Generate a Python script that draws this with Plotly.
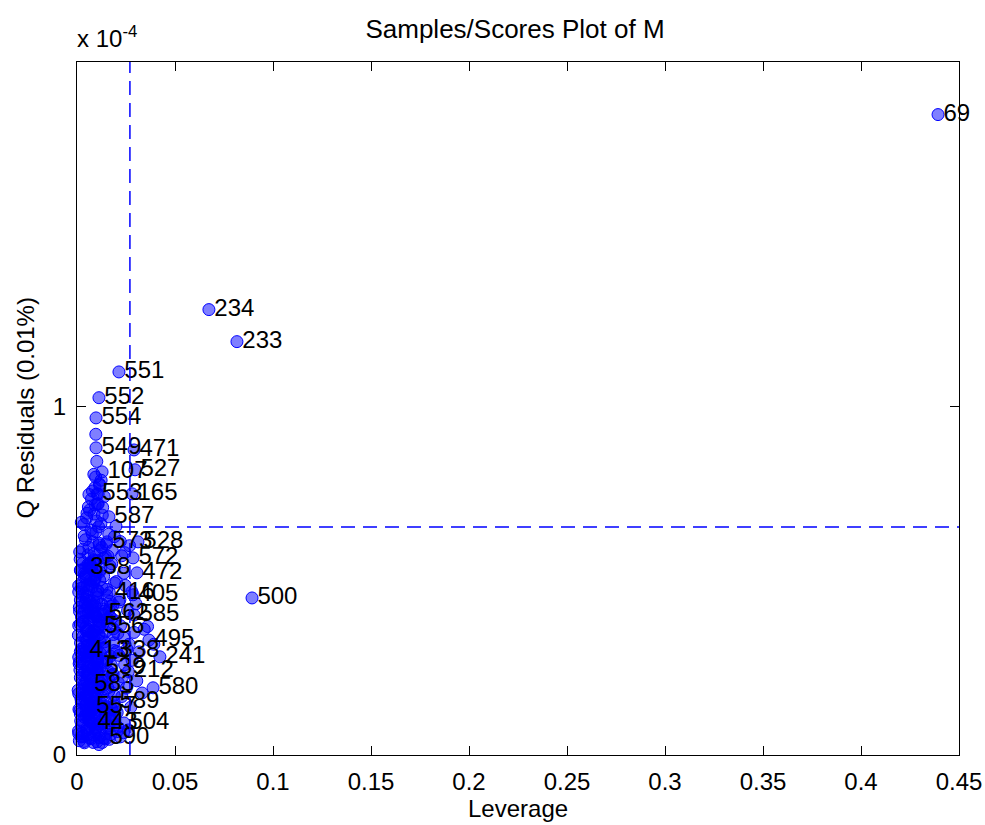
import plotly.graph_objects as go

# ---------------- data (Q residuals in units of 1e-4) ----------------
# unlabeled cluster samples
leverage = [
    # y 0.03-0.12
    0.0012, 0.0025, 0.0038, 0.0051, 0.0063, 0.0077, 0.0089, 0.0102, 0.0116, 0.0131,
    0.0145, 0.0158, 0.0172, 0.0188, 0.0203, 0.0221, 0.0019, 0.0044, 0.0068, 0.0093,
    0.0121, 0.0149, 0.0176, 0.0209, 0.0237, 0.0262, 0.0008, 0.0057, 0.0112, 0.0165,
    # y 0.12-0.25
    0.0010, 0.0022, 0.0034, 0.0047, 0.0059, 0.0071, 0.0084, 0.0096, 0.0108, 0.0121,
    0.0135, 0.0148, 0.0162, 0.0177, 0.0193, 0.0211, 0.0229, 0.0251, 0.0274, 0.0015,
    0.0029, 0.0042, 0.0055, 0.0068, 0.0081, 0.0095, 0.0110, 0.0126, 0.0142, 0.0159,
    0.0181, 0.0205, 0.0232, 0.0305, 0.0332, 0.0006, 0.0039, 0.0073, 0.0103, 0.0139,
    # y 0.25-0.40
    0.0011, 0.0024, 0.0036, 0.0049, 0.0061, 0.0074, 0.0086, 0.0099, 0.0113, 0.0127,
    0.0141, 0.0155, 0.0170, 0.0186, 0.0203, 0.0222, 0.0243, 0.0266, 0.0291, 0.0017,
    0.0031, 0.0045, 0.0058, 0.0072, 0.0087, 0.0102, 0.0118, 0.0134, 0.0151, 0.0168,
    0.0189, 0.0214, 0.0238, 0.0317, 0.0343, 0.0007, 0.0052, 0.0079, 0.0106, 0.0146,
    0.0196, 0.0255, 0.0281, 0.0360, 0.0392,
    # y 0.40-0.55
    0.0013, 0.0026, 0.0040, 0.0053, 0.0066, 0.0080, 0.0093, 0.0107, 0.0122, 0.0137,
    0.0152, 0.0168, 0.0184, 0.0201, 0.0219, 0.0238, 0.0258, 0.0280, 0.0019, 0.0033,
    0.0047, 0.0062, 0.0076, 0.0091, 0.0105, 0.0120, 0.0136, 0.0153, 0.0171, 0.0192,
    0.0214, 0.0009, 0.0057, 0.0085, 0.0116, 0.0163, 0.0246, 0.0301,
    # y 0.55-0.70
    0.0016, 0.0029, 0.0043, 0.0057, 0.0071, 0.0085, 0.0099, 0.0114, 0.0129, 0.0145,
    0.0162, 0.0180, 0.0199, 0.0221, 0.0244, 0.0022, 0.0037, 0.0051, 0.0066, 0.0081,
    0.0097, 0.0126, 0.0158, 0.0191, 0.0268, 0.0110,
    # y 0.70-1.0
    0.0058, 0.0074, 0.0092, 0.0108, 0.0123, 0.0086, 0.0101, 0.0139, 0.0079, 0.0115,
    0.0096, 0.0131,
    # dense core, y 0.03-0.15
    0.0015, 0.0030, 0.0045, 0.0060, 0.0075, 0.0090, 0.0105, 0.0120, 0.0135, 0.0150,
    0.0165, 0.0180, 0.0195, 0.0021, 0.0036, 0.0052, 0.0067, 0.0083, 0.0098, 0.0114,
    0.0129, 0.0144, 0.0160, 0.0176, 0.0192,
    # dense core, y 0.15-0.30
    0.0014, 0.0028, 0.0041, 0.0054, 0.0067, 0.0080, 0.0094, 0.0107, 0.0120, 0.0133,
    0.0147, 0.0161, 0.0175, 0.0190, 0.0020, 0.0035, 0.0049, 0.0063, 0.0077, 0.0091,
    0.0104, 0.0118, 0.0132, 0.0157, 0.0184,
    # dense core, y 0.30-0.45
    0.0012, 0.0027, 0.0042, 0.0056, 0.0070, 0.0084, 0.0098, 0.0112, 0.0126, 0.0140,
    0.0154, 0.0169, 0.0185, 0.0018, 0.0033, 0.0048, 0.0064, 0.0078, 0.0093, 0.0109,
    0.0124, 0.0139, 0.0176, 0.0208,
    # dense core, y 0.45-0.62
    0.0014, 0.0031, 0.0046, 0.0061, 0.0075, 0.0089, 0.0104, 0.0119, 0.0134, 0.0149,
    0.0021, 0.0038, 0.0054, 0.0069, 0.0083, 0.0098, 0.0113, 0.0128, 0.0177, 0.0228,
    # y 0.62-0.80
    0.0035, 0.0049, 0.0064, 0.0078, 0.0093, 0.0108, 0.0122, 0.0061, 0.0087, 0.0104,
    0.0116, 0.0095,
    # innermost core, five bands
    0.0009, 0.0023, 0.0037, 0.0050, 0.0064, 0.0078, 0.0092, 0.0106,
    0.0017, 0.0031, 0.0045, 0.0059, 0.0073, 0.0087, 0.0101, 0.0115,
    0.0009, 0.0023, 0.0037, 0.0050, 0.0064, 0.0078, 0.0092, 0.0106,
    0.0017, 0.0031, 0.0045, 0.0059, 0.0073, 0.0087, 0.0101, 0.0115,
    0.0009, 0.0023, 0.0037, 0.0050, 0.0064, 0.0078, 0.0092, 0.0106,
    0.0017, 0.0031, 0.0045, 0.0059, 0.0073, 0.0087, 0.0101, 0.0115,
    0.0009, 0.0023, 0.0037, 0.0050, 0.0064, 0.0078, 0.0092, 0.0106,
    0.0017, 0.0031, 0.0045, 0.0059, 0.0073, 0.0087, 0.0101, 0.0115,
    0.0009, 0.0023, 0.0037, 0.0050, 0.0064, 0.0078, 0.0092, 0.0106,
    0.0017, 0.0031, 0.0045, 0.0059, 0.0073, 0.0087, 0.0101, 0.0115,
]
q_residual = [
    0.041, 0.062, 0.035, 0.078, 0.049, 0.091, 0.057, 0.038, 0.071, 0.104,
    0.046, 0.083, 0.059, 0.112, 0.067, 0.052, 0.098, 0.115, 0.108, 0.074,
    0.089, 0.061, 0.099, 0.080, 0.064, 0.072, 0.069, 0.119, 0.030, 0.045,
    0.131, 0.152, 0.174, 0.128, 0.196, 0.143, 0.218, 0.165, 0.237, 0.149,
    0.201, 0.126, 0.183, 0.229, 0.141, 0.207, 0.168, 0.192, 0.137, 0.244,
    0.209, 0.161, 0.235, 0.178, 0.133, 0.247, 0.189, 0.214, 0.157, 0.241,
    0.198, 0.122, 0.224, 0.213, 0.178, 0.186, 0.239, 0.205, 0.171, 0.138,
    0.262, 0.289, 0.311, 0.274, 0.338, 0.256, 0.357, 0.301, 0.382, 0.268,
    0.325, 0.392, 0.284, 0.346, 0.297, 0.371, 0.259, 0.318, 0.352, 0.376,
    0.341, 0.295, 0.389, 0.278, 0.331, 0.253, 0.364, 0.306, 0.271, 0.398,
    0.322, 0.286, 0.337, 0.296, 0.361, 0.344, 0.315, 0.397, 0.279, 0.354,
    0.385, 0.304, 0.272, 0.369, 0.318,
    0.412, 0.438, 0.463, 0.425, 0.491, 0.407, 0.517, 0.452, 0.534, 0.419,
    0.476, 0.543, 0.431, 0.498, 0.446, 0.522, 0.415, 0.469, 0.529, 0.482,
    0.447, 0.538, 0.423, 0.505, 0.471, 0.404, 0.513, 0.458, 0.427, 0.494,
    0.439, 0.486, 0.548, 0.441, 0.502, 0.416, 0.487, 0.434,
    0.562, 0.591, 0.618, 0.575, 0.646, 0.558, 0.672, 0.603, 0.689, 0.569,
    0.634, 0.587, 0.657, 0.613, 0.581, 0.668, 0.629, 0.694, 0.552, 0.612,
    0.641, 0.596, 0.571, 0.627, 0.601, 0.655,
    0.712, 0.735, 0.768, 0.721, 0.789, 0.806, 0.843, 0.742, 0.758, 0.778,
    0.921, 0.711,
    0.128, 0.095, 0.142, 0.118, 0.136, 0.112, 0.147, 0.126, 0.092, 0.139,
    0.116, 0.131, 0.086, 0.052, 0.039, 0.058, 0.082, 0.036, 0.124, 0.050,
    0.036, 0.110, 0.077, 0.133, 0.103,
    0.268, 0.231, 0.283, 0.252, 0.298, 0.221, 0.276, 0.193, 0.291, 0.225,
    0.264, 0.217, 0.258, 0.171, 0.162, 0.197, 0.214, 0.159, 0.249, 0.182,
    0.263, 0.208, 0.172, 0.193, 0.232,
    0.424, 0.381, 0.437, 0.362, 0.418, 0.326, 0.398, 0.345, 0.433, 0.309,
    0.376, 0.441, 0.362, 0.322, 0.408, 0.356, 0.443, 0.319, 0.427, 0.386,
    0.336, 0.413, 0.393, 0.349,
    0.583, 0.552, 0.512, 0.596, 0.534, 0.578, 0.559, 0.587, 0.566, 0.606,
    0.479, 0.511, 0.488, 0.502, 0.561, 0.527, 0.608, 0.481, 0.549, 0.572,
    0.662, 0.681, 0.703, 0.635, 0.718, 0.749, 0.664, 0.748, 0.692, 0.721,
    0.775, 0.798,
    0.061, 0.083, 0.109, 0.071, 0.097, 0.128, 0.066, 0.088,
    0.118, 0.054, 0.145, 0.102, 0.047, 0.121, 0.079, 0.141,
    0.176, 0.158, 0.204, 0.233, 0.187, 0.165, 0.246, 0.199,
    0.222, 0.186, 0.171, 0.228, 0.193, 0.153, 0.238, 0.211,
    0.281, 0.304, 0.266, 0.329, 0.293, 0.348, 0.315, 0.274,
    0.297, 0.262, 0.335, 0.287, 0.308, 0.343, 0.283, 0.327,
    0.372, 0.396, 0.415, 0.358, 0.387, 0.431, 0.404, 0.365,
    0.445, 0.383, 0.366, 0.409, 0.352, 0.397, 0.438, 0.374,
    0.468, 0.495, 0.521, 0.456, 0.544, 0.483, 0.507, 0.472,
    0.531, 0.459, 0.518, 0.475, 0.542, 0.497, 0.463, 0.526,
]

# labeled samples
sample_labels = ["69", "234", "233", "500", "551", "552", "554", "549", "471", "107",
                 "527", "553", "165", "587", "573", "528", "572", "358", "472", "416",
                 "405", "562", "585", "556", "495", "413", "338", "241", "539", "212",
                 "583", "580", "589", "557", "443", "504", "590"]
label_leverage = [0.4393, 0.0673, 0.0816, 0.0893, 0.0214, 0.0112, 0.0097, 0.0097, 0.0291, 0.0128,
                  0.0296, 0.0102, 0.0281, 0.0163, 0.0153, 0.0311, 0.0286, 0.0040, 0.0306, 0.0165,
                  0.0286, 0.0135, 0.0291, 0.0112, 0.0367, 0.0036, 0.0189, 0.0423, 0.0118, 0.0262,
                  0.0061, 0.0388, 0.0189, 0.0071, 0.0077, 0.0240, 0.0138]
label_q = [1.839, 1.279, 1.187, 0.451, 1.100, 1.026, 0.968, 0.882, 0.876, 0.813,
           0.819, 0.750, 0.750, 0.684, 0.612, 0.612, 0.566, 0.537, 0.523, 0.466,
           0.460, 0.405, 0.402, 0.368, 0.330, 0.300, 0.300, 0.282, 0.250, 0.240,
           0.200, 0.193, 0.152, 0.138, 0.092, 0.092, 0.049]

# confidence limits
leverage_limit = 0.0270
q_limit = 0.655

x_ticks = [0, 0.05, 0.1, 0.15, 0.2, 0.25, 0.3, 0.35, 0.4, 0.45]
x_tick_text = ["0", "0.05", "0.1", "0.15", "0.2", "0.25", "0.3", "0.35", "0.4", "0.45"]
y_ticks = [0, 1]
y_tick_text = ["0", "1"]

# ---------------- figure ----------------
W, H = 985, 825
FONT = "Liberation Sans, Arial, sans-serif"
marker_style = dict(size=12, color="rgba(0,0,255,0.5)", line=dict(color="#0000ff", width=1))

fig = go.Figure()
# all sample markers (cluster first, labeled samples drawn last)
fig.add_trace(go.Scatter(x=leverage + label_leverage, y=q_residual + label_q, mode="markers",
                         marker=marker_style, cliponaxis=False, showlegend=False,
                         hoverinfo="x+y"))
# sample number labels, placed just right of each marker (invisible small markers set the gap)
fig.add_trace(go.Scatter(x=label_leverage, y=label_q, mode="markers+text", text=sample_labels,
                         textposition="middle right",
                         marker=dict(size=7, color="rgba(0,0,0,0)", line=dict(width=0)),
                         textfont=dict(family=FONT, size=24, color="black"),
                         cliponaxis=False, showlegend=False, hoverinfo="skip"))

dash_line = dict(color="#0000ff", width=1.5, dash="14px,8px")
fig.add_shape(type="line", xref="x", yref="paper", x0=leverage_limit, x1=leverage_limit,
              y0=0, y1=1, line=dash_line, layer="above")
fig.add_shape(type="line", xref="paper", yref="y", x0=0, x1=1, y0=q_limit, y1=q_limit,
              line=dash_line, layer="above")

axis_common = dict(showline=True, linecolor="black", linewidth=1, mirror="ticks",
                   ticks="inside", ticklen=9, tickcolor="black", tickwidth=1,
                   showgrid=False, zeroline=False, automargin=False,
                   tickfont=dict(family=FONT, size=24, color="black"))

fig.update_xaxes(range=[0, 0.45], tickvals=x_ticks, ticktext=x_tick_text,
                 ticklabelstandoff=5, **axis_common)
fig.update_yaxes(range=[0, 1.99], tickvals=y_ticks, ticktext=y_tick_text,
                 ticklabelstandoff=5, **axis_common)

TITLE_FONT = dict(family=FONT, size=24, color="black")
fig.update_layout(
    width=W, height=H,
    margin=dict(l=77, r=26, t=62, b=70),
    paper_bgcolor="white", plot_bgcolor="white",
    title=dict(text="Samples/Scores Plot of M", x=515 / W, xanchor="center",
               y=1 - 29 / H, yanchor="middle", yref="container",
               font=dict(family=FONT, size=26, color="black")),
    annotations=[
        dict(text="x 10<sup>-4</sup>", xref="paper", yref="paper", x=0, y=1,
             xanchor="left", yanchor="bottom", yshift=8, xshift=-2, showarrow=False,
             font=TITLE_FONT),
        dict(text="Leverage", xref="paper", yref="paper", x=0.5, y=0,
             xanchor="center", yanchor="middle", yshift=-53, showarrow=False,
             font=TITLE_FONT),
        dict(text="Q Residuals (0.01%)", xref="paper", yref="paper", x=0, y=0.5,
             xanchor="center", yanchor="middle", xshift=-52, textangle=-90, showarrow=False,
             font=TITLE_FONT),
    ],
)

# remove the page's default body margin so the figure fills the window exactly
fig.write_html("out.html", config={"displayModeBar": False},
               post_script="document.body.style.margin='0';document.body.style.overflow='hidden';")
